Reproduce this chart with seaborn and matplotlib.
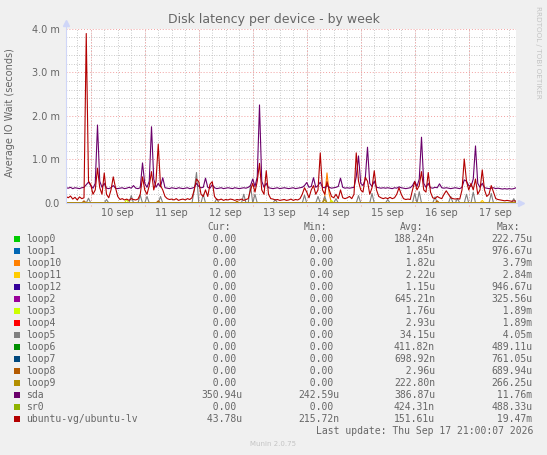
import pandas as pd
import seaborn as sns
import matplotlib.pyplot as plt
import matplotlib.dates as mdates
from matplotlib.patches import Rectangle
from matplotlib.ticker import MultipleLocator, FuncFormatter

# devices in munin drawing order, with munin's palette
devices = ["loop0", "loop1", "loop10", "loop11", "loop12", "loop2", "loop3", "loop4",
           "loop5", "loop6", "loop7", "loop8", "loop9", "sda", "sr0", "ubuntu-vg/ubuntu-lv"]
colors = ["#00CC00", "#0066B3", "#FF8000", "#FFCC00", "#330099", "#990099", "#CCFF00", "#FF0000",
          "#808080", "#008F00", "#00487D", "#B35A00", "#B38F00", "#6B006B", "#8FB300", "#B30000"]

# legend statistics (seconds)
cur_vals = [0, 0, 0, 0, 0, 0, 0, 0, 0, 0, 0, 0, 0, 350.94e-6, 0, 43.78e-6]
min_vals = [0, 0, 0, 0, 0, 0, 0, 0, 0, 0, 0, 0, 0, 242.59e-6, 0, 215.72e-9]
avg_vals = [188.24e-9, 1.85e-6, 1.82e-6, 2.22e-6, 1.15e-6, 645.21e-9, 1.76e-6, 2.93e-6,
            34.15e-6, 411.82e-9, 698.92e-9, 2.96e-6, 222.80e-9, 386.87e-6, 424.31e-9, 151.61e-6]
max_vals = [222.75e-6, 976.67e-6, 3.79e-3, 2.84e-3, 946.67e-6, 325.56e-6, 1.89e-3, 1.89e-3,
            4.05e-3, 489.11e-6, 761.05e-6, 689.94e-6, 266.25e-6, 11.76e-3, 488.33e-6, 19.47e-3]

# hourly average wait in milliseconds, from Sep 9 13:00 to Sep 17 21:00
sda = [0.35, 0.34, 0.36, 0.33, 0.35, 0.34, 0.33, 0.35, 0.36, 0.42, 0.48, 0.40,
       0.34, 0.45, 1.79, 0.50, 0.36, 0.45, 0.34, 0.33, 0.35, 0.40, 0.34, 0.33,
       0.34, 0.35, 0.33, 0.34, 0.36, 0.34, 0.40, 0.34, 0.33, 0.35, 0.92, 0.45,
       0.36, 0.50, 1.75, 0.55, 0.36, 0.45, 0.37, 0.58, 0.35, 0.34, 0.33, 0.35,
       0.34, 0.33, 0.35, 0.34, 0.33, 0.34, 0.35, 0.33, 0.34, 0.36, 0.45, 0.38,
       0.35, 0.36, 0.57, 0.36, 0.34, 0.42, 0.35, 0.33, 0.34, 0.35, 0.33, 0.34,
       0.35, 0.34, 0.33, 0.35, 0.34, 0.33, 0.34, 0.35, 0.34, 0.36, 0.40, 0.55,
       0.38, 0.60, 2.25, 0.50, 0.36, 0.45, 0.35, 0.34, 0.33, 0.34, 0.35, 0.33,
       0.34, 0.35, 0.34, 0.33, 0.34, 0.35, 0.33, 0.34, 0.35, 0.36, 0.40, 0.47,
       0.36, 0.38, 0.58, 0.36, 0.40, 0.48, 0.36, 0.35, 0.40, 0.36, 0.34, 0.35,
       0.36, 0.38, 0.57, 0.36, 0.34, 0.35, 0.34, 0.35, 0.36, 0.60, 1.08, 0.45,
       0.40, 0.55, 1.28, 0.45, 0.38, 0.50, 0.36, 0.35, 0.34, 0.35, 0.34, 0.35,
       0.34, 0.33, 0.35, 0.34, 0.37, 0.35, 0.34, 0.33, 0.34, 0.35, 0.40, 0.50,
       0.38, 0.55, 1.51, 0.45, 0.36, 0.45, 0.35, 0.34, 0.36, 0.35, 0.44, 0.35,
       0.34, 0.35, 0.34, 0.33, 0.34, 0.35, 0.34, 0.33, 0.36, 0.53, 0.50, 0.40,
       0.38, 0.55, 1.31, 0.45, 0.36, 0.45, 0.35, 0.34, 0.33, 0.34, 0.35, 0.33,
       0.34, 0.33, 0.32, 0.33, 0.32, 0.33, 0.32, 0.33, 0.35]

ubuntu_lv = [0.15, 0.12, 0.16, 0.09, 0.13, 0.07, 0.14, 0.10, 0.12, 3.89, 0.50, 0.42,
             0.20, 0.30, 0.80, 0.35, 0.20, 0.69, 0.20, 0.12, 0.30, 0.60, 0.35, 0.15,
             0.08, 0.10, 0.07, 0.09, 0.06, 0.10, 0.08, 0.07, 0.09, 0.20, 0.60, 0.30,
             0.20, 0.40, 0.72, 0.30, 0.50, 1.35, 0.40, 0.30, 0.15, 0.10, 0.08, 0.09,
             0.07, 0.10, 0.06, 0.08, 0.09, 0.07, 0.10, 0.08, 0.12, 0.30, 0.55, 0.49,
             0.20, 0.15, 0.30, 0.15, 0.43, 0.49, 0.15, 0.08, 0.07, 0.09, 0.06, 0.08,
             0.07, 0.09, 0.08, 0.06, 0.08, 0.07, 0.09, 0.06, 0.08, 0.10, 0.30, 0.45,
             0.25, 0.50, 0.91, 0.30, 0.20, 0.74, 0.20, 0.10, 0.09, 0.07, 0.08, 0.06,
             0.07, 0.08, 0.06, 0.07, 0.09, 0.06, 0.08, 0.07, 0.10, 0.20, 0.35, 0.25,
             0.12, 0.30, 0.40, 0.20, 0.30, 1.15, 0.30, 0.20, 0.49, 0.30, 0.15, 0.12,
             0.20, 0.10, 0.30, 0.12, 0.10, 0.12, 0.15, 0.10, 0.20, 1.15, 0.50, 0.30,
             0.25, 0.59, 0.50, 0.20, 0.35, 0.74, 0.30, 0.15, 0.12, 0.10, 0.12, 0.10,
             0.13, 0.10, 0.12, 0.20, 0.35, 0.20, 0.10, 0.08, 0.09, 0.08, 0.30, 0.49,
             0.30, 0.40, 0.72, 0.30, 0.25, 0.70, 0.25, 0.12, 0.10, 0.15, 0.12, 0.10,
             0.20, 0.28, 0.20, 0.12, 0.10, 0.09, 0.10, 0.09, 0.30, 1.01, 0.50, 0.30,
             0.45, 0.30, 0.55, 0.20, 0.30, 0.76, 0.30, 0.15, 0.20, 0.40, 0.25, 0.10,
             0.08, 0.07, 0.06, 0.05, 0.06, 0.05, 0.04, 0.05, 0.044]

# loop devices are idle most of the time: {hour: ms}
loop5_spikes = {10: 0.11, 18: 0.08, 29: 0.17, 33: 0.18, 36: 0.15, 42: 0.15, 57: 0.30, 58: 0.70,
                61: 0.20, 67: 0.10, 79: 0.20, 82: 0.41, 84: 0.20, 93: 0.08, 106: 0.18, 112: 0.15,
                115: 0.15, 120: 0.10, 130: 0.17, 136: 0.22, 143: 0.08, 155: 0.22, 157: 0.26,
                164: 0.14, 171: 0.15, 174: 0.10, 178: 0.20, 181: 0.25, 189: 0.22, 199: 0.10}
loop10_spikes = {115: 0.15, 116: 0.69, 117: 0.20}
loop3_spikes = {27: 0.08, 118: 0.06}
loop8_spikes = {8: 0.05, 41: 0.05, 76: 0.04, 165: 0.05}
loop11_spikes = {185: 0.06}
loop9_spikes = {115: 0.08}

times = pd.date_range("2026-09-09 13:00", periods=len(sda), freq="h")
n = len(times)


def sparse(d):
    return [d.get(h, 0.0) for h in range(n)]


series = {name: [0.0] * n for name in devices}
series["loop5"] = sparse(loop5_spikes)
series["loop10"] = sparse(loop10_spikes)
series["loop3"] = sparse(loop3_spikes)
series["loop8"] = sparse(loop8_spikes)
series["loop11"] = sparse(loop11_spikes)
series["loop9"] = sparse(loop9_spikes)
series["sda"] = sda
series["ubuntu-vg/ubuntu-lv"] = ubuntu_lv

df = pd.concat([pd.DataFrame({"time": times, "wait": series[d], "device": d}) for d in devices],
               ignore_index=True)

sns.set_style("white")
plt.rcParams["font.family"] = ["DejaVu Sans"]
FONT = "#666666"
GRID = "#b8b8b8"
MGRID = "#f2a0a0"
AXIS = "#CFD6F8"
W, H = 547, 455

fig = plt.figure(figsize=(W / 100, H / 100), dpi=100, facecolor="#F0F0F0")
ax = fig.add_axes([66 / W, 1 - 203 / H, 450 / W, (203 - 28.7) / H])
ax.set_facecolor("white")

sns.lineplot(data=df, x="time", y="wait", hue="device", hue_order=devices,
             palette=dict(zip(devices, colors)), linewidth=0.8, errorbar=None,
             legend=False, ax=ax, zorder=3)

ax.set_xlim(times[0], times[-1])
ax.set_ylim(0, 4.0)
ax.set_xlabel("")
ax.set_ylabel("")

ax.xaxis.set_major_locator(mdates.HourLocator(byhour=12))
ax.xaxis.set_major_formatter(FuncFormatter(lambda v, p: mdates.num2date(v).strftime("%d %b").lower()))
ax.xaxis.set_minor_locator(mdates.HourLocator(byhour=[0, 6, 12, 18]))
ax.xaxis.remove_overlapping_locs = False
ax.yaxis.set_major_locator(MultipleLocator(1.0))
ax.yaxis.set_minor_locator(MultipleLocator(0.2))
ax.yaxis.set_major_formatter(FuncFormatter(lambda v, p: "0.0" if v == 0 else f"{v:.1f} m"))

ax.grid(which="minor", color=GRID, linestyle=(0, (1, 2)), linewidth=0.6, zorder=0)
ax.grid(which="major", axis="y", color=MGRID, linestyle=(0, (1, 2)), linewidth=0.7, zorder=1)
for day in pd.date_range("2026-09-10", "2026-09-17", freq="D"):
    ax.axvline(day, ymin=-0.015, color=MGRID, linestyle=(0, (1, 2)), linewidth=0.7,
               zorder=1, clip_on=False)
ax.set_axisbelow(True)

ax.tick_params(axis="both", which="both", length=0, colors=FONT, labelsize=7)
ax.tick_params(axis="x", which="major", pad=3.5)
ax.tick_params(axis="y", which="major", pad=4.5)

for s in ax.spines.values():
    s.set_visible(False)
ax.plot([0, 0], [0, 1.025], color=AXIS, lw=0.8, transform=ax.transAxes, clip_on=False, zorder=4)
ax.plot([0, 1.01], [0, 0], color=AXIS, lw=0.8, transform=ax.transAxes, clip_on=False, zorder=4)
ax.plot([0], [1.03], marker="^", ms=4, color=AXIS, transform=ax.transAxes, clip_on=False)
ax.plot([1.012], [0], marker=">", ms=4, color=AXIS, transform=ax.transAxes, clip_on=False)


def px(x, y):
    return x / W, 1 - y / H


fig.text(*px(273.5, 19), "Disk latency per device - by week", ha="center", va="center",
         fontsize=9, color=FONT)
fig.text(*px(10.5, 113), "Average IO Wait (seconds)", ha="center", va="center",
         rotation=90, fontsize=7, color=FONT)
fig.text(*px(538, 52), "RRDTOOL / TOBI OETIKER", ha="center", va="center",
         rotation=270, fontsize=5.2, color="#c4c4c4")


def si(v):
    for factor, suffix in [(1e-3, "m"), (1e-6, "u"), (1e-9, "n")]:
        if abs(v) >= factor:
            return f"{v / factor:6.2f}{suffix}"
    return f"{v:6.2f} "


mono = "DejaVu Sans Mono"
col_x = [201, 298, 394, 491]
for cx, head in zip(col_x, ["Cur:", "Min:", "Avg:", "Max:"]):
    fig.text(*px(cx + 6, 227.3), head, ha="left", va="center", fontsize=7, color=FONT, family=mono)

for i, name in enumerate(devices):
    y = 239.3 + 12 * i
    fig.patches.append(Rectangle(px(14, y + 3), 6 / W, 6 / H, transform=fig.transFigure,
                                 facecolor=colors[i], edgecolor="none"))
    fig.text(*px(26.5, y), name, ha="left", va="center", fontsize=7, color=FONT, family=mono)
    for cx, vals in zip(col_x, [cur_vals, min_vals, avg_vals, max_vals]):
        fig.text(*px(cx, y), si(vals[i]), ha="left", va="center", fontsize=7,
                 color=FONT, family=mono)

fig.text(*px(533, 431.3), "Last update: Thu Sep 17 21:00:07 2026", ha="right", va="center",
         fontsize=7, color=FONT, family=mono)
fig.text(*px(273.5, 444), "Munin 2.0.75", ha="center", va="center", fontsize=5, color="#c4c4c4")

fig.savefig("out.png", dpi=100, facecolor=fig.get_facecolor())
